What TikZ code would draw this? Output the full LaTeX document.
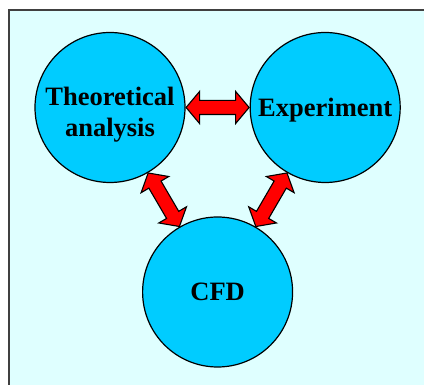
\documentclass[tikz,border=0pt]{standalone}
\usepackage{fontspec}
\setmainfont{Liberation Serif}
\usetikzlibrary{positioning,calc,shapes.arrows}
\definecolor{PanelCyan}{HTML}{DFFFFF}
\definecolor{BubbleBlue}{HTML}{00CCFF}
\definecolor{FrameGray}{HTML}{404040}

\begin{document}
\begin{tikzpicture}[x=1pt, y=1pt, node distance=64pt,
    bubble/.style={draw, circle, fill=BubbleBlue, line width=1.2pt, minimum size=150pt,
        inner sep=0pt, align=center, font=\fontsize{26.5}{31}\selectfont\bfseries},
    link/.style={draw, double arrow, fill=red, line width=1.1pt, inner xsep=0pt, inner ysep=6.5pt,
        double arrow head extend=9pt, double arrow tip angle=100}]

\useasboundingbox (0,0) rectangle (424,385);
\draw[FrameGray, fill=PanelCyan, line width=1.3pt] (9,375) rectangle (432,-8);

% top row
\node[bubble, text height=64pt, text depth=6pt] (theory) at (110,277.5) {Theoretical\\analysis};
\node[bubble, right=of theory, text height=24pt, text depth=6pt] (exp) {Experiment};

% bottom
\node[bubble] (cfd) at ($(theory)!0.5!(exp)+(0,-184.5)$) {CFD};

% arrows
\node[link, minimum height=63pt] (l1) at ($(theory)!0.5!(exp)$) {};
\node[link, minimum height=62pt, rotate=-59.7] (l2) at ($(theory)!0.5!(cfd)$) {};
\node[link, minimum height=62pt, rotate=59.8] (l3) at ($(exp)!0.5!(cfd)$) {};
\end{tikzpicture}
\end{document}
